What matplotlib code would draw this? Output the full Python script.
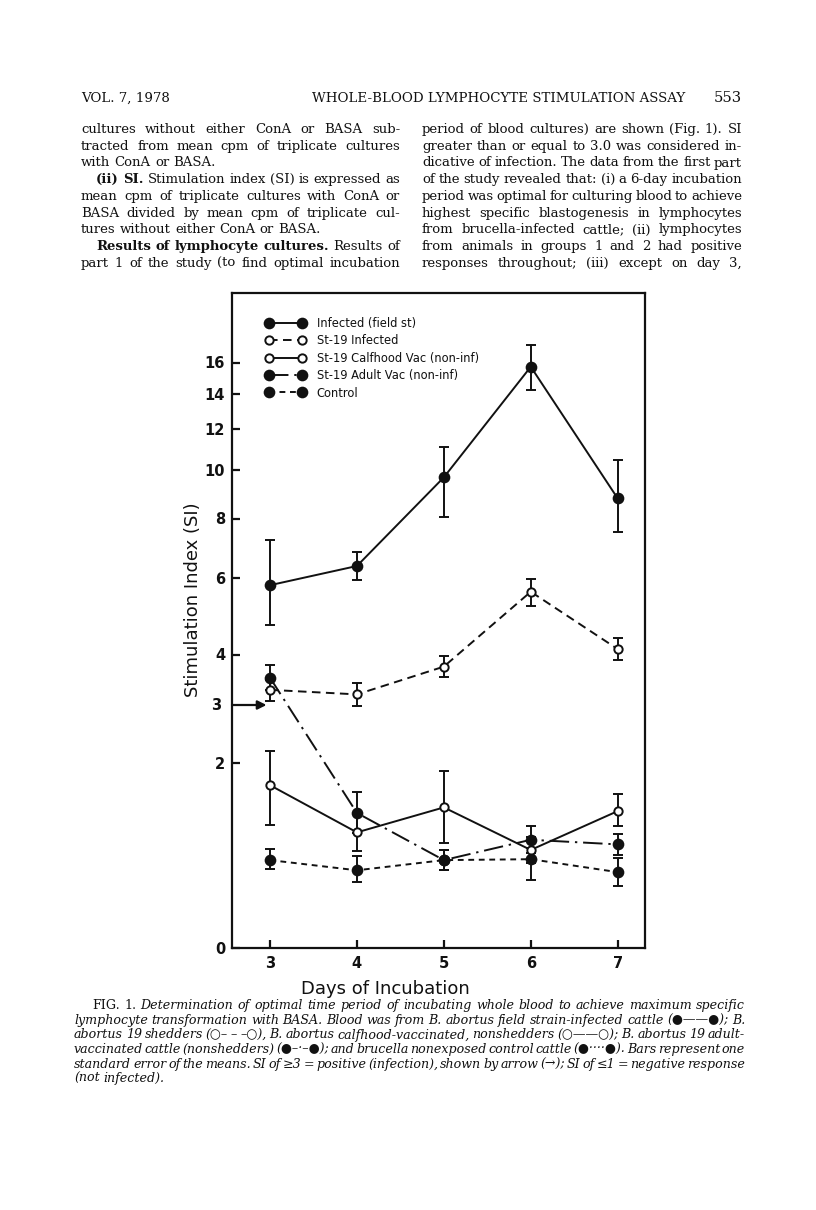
import numpy as np
import matplotlib
matplotlib.use("Agg")
import matplotlib.pyplot as plt
from matplotlib.lines import Line2D

W, H = 816, 1210
INK = "#111111"

# days of incubation
days = [3, 4, 5, 6, 7]

# stimulation index: means and ends of the error bars
infected = [5.8, 6.39, 9.68, 15.73, 8.82]
infected_hi = [7.27, 6.87, 11.1, 17.23, 10.47]
infected_lo = [4.77, 5.94, 8.08, 14.25, 7.55]

st19_inf = [3.30, 3.21, 3.76, 5.63, 4.14]
st19_inf_hi = [3.50, 3.43, 3.98, 5.95, 4.42]
st19_inf_lo = [3.07, 2.99, 3.55, 5.25, 3.89]

calfhood = [1.76, 1.25, 1.52, 1.06, 1.48]
calfhood_hi = [2.21, 1.45, 1.91, 1.20, 1.66]
calfhood_lo = [1.33, 1.05, 1.13, 0.92, 1.32]

adult = [3.54, 1.46, 0.95, 1.17, 1.12]
adult_hi = [3.80, 1.69, 1.06, 1.32, 1.23]
adult_lo = [3.30, 1.24, 0.84, 1.03, 1.01]

control = [0.95, 0.84, 0.95, 0.96, 0.82]
control_hi = [1.07, 1.00, 1.06, 1.08, 0.97]
control_lo = [0.85, 0.71, 0.84, 0.74, 0.67]

series_names = ["Infected (field st)", "St-19 Infected",
                "St-19 Calfhood Vac (non-inf)", "St-19 Adult Vac (non-inf)",
                "Control"]

y_ticks = [0, 2, 4, 6, 8, 10, 12, 14, 16]
x_label = "Days of Incubation"
y_label = "Stimulation Index (SI)"

# the SI axis of the printed figure is stretched by hand:
# value -> height (px) above the zero line
axis_si = [0, 2, 3, 4, 6, 8, 10, 12, 14, 16, 18, 21]
axis_h = [0, 185, 243, 293.5, 370.5, 429.5, 478.5, 519, 554, 585.5, 614, 655]

# page text
header_left = "VOL. 7, 1978"
header_mid = "WHOLE-BLOOD LYMPHOCYTE STIMULATION ASSAY"
header_right = "553"

left_col = [
    ("", "cultures without either ConA or BASA sub-", False, True),
    ("", "tracted from mean cpm of triplicate cultures", False, True),
    ("", "with ConA or BASA.", False, False),
    ("(ii) SI.", "Stimulation index (SI) is expressed as", True, True),
    ("", "mean cpm of triplicate cultures with ConA or", False, True),
    ("", "BASA divided by mean cpm of triplicate cul-", False, True),
    ("", "tures without either ConA or BASA.", False, False),
    ("Results of lymphocyte cultures.", "Results of", True, True),
    ("", "part 1 of the study (to find optimal incubation", False, True),
]
right_col = [
    "period of blood cultures) are shown (Fig. 1). SI",
    "greater than or equal to 3.0 was considered in-",
    "dicative of infection. The data from the first part",
    "of the study revealed that: (i) a 6-day incubation",
    "period was optimal for culturing blood to achieve",
    "highest specific blastogenesis in lymphocytes",
    "from brucella-infected cattle; (ii) lymphocytes",
    "from animals in groups 1 and 2 had positive",
    "responses throughout; (iii) except on day 3,",
]
caption = [
    ("FIG. 1.", "Determination of optimal time period of incubating whole blood to achieve maximum specific"),
    ("", "lymphocyte transformation with BASA. Blood was from B. abortus field strain-infected cattle (●——●); B."),
    ("", "abortus 19 shedders (○– – –○), B. abortus calfhood-vaccinated, nonshedders (○——○); B. abortus 19 adult-"),
    ("", "vaccinated cattle (nonshedders) (●–·–●); and brucella nonexposed control cattle (●····●). Bars represent one"),
    ("", "standard error of the means. SI of ≥3 = positive (infection), shown by arrow (→); SI of ≤1 = negative response"),
    ("", "(not infected)."),
]

fig = plt.figure(figsize=(W / 100, H / 100), dpi=100)
fig.patch.set_facecolor("white")
rend = fig.canvas.get_renderer()


def fx(x):
    return x / W


def fy(y):
    return 1 - y / H


def text_w(s, **kw):
    t = fig.text(0, 0, s, **kw)
    w = t.get_window_extent(renderer=rend).width
    t.remove()
    return w


def fit_size(lines, base, cap, min_gap):
    # largest size (<= cap) at which every justified line still fits
    best = cap
    for toks, x0, x1, just in lines:
        if not just:
            continue
        ws = sum(text_w(w, fontsize=base, **st) for w, st in toks)
        avail = x1 - x0 - min_gap * (len(toks) - 1)
        best = min(best, base * avail / ws)
    return best


def put_line(toks, x0, x1, y, size, just):
    widths = [text_w(w, fontsize=size, **st) for w, st in toks]
    if just and len(toks) > 1:
        gap = (x1 - x0 - sum(widths)) / (len(toks) - 1)
    else:
        gap = text_w("a a", fontsize=size, **toks[0][1]) - text_w("aa", fontsize=size, **toks[0][1])
    x = x0
    for (w, st), wd in zip(toks, widths):
        fig.text(fx(x), fy(y), w, fontsize=size, ha="left", va="baseline",
                 color=INK, **st)
        x += wd + gap


# ---------------- page text ----------------
serif = dict(family="DejaVu Serif")
serif_b = dict(family="DejaVu Serif", weight="bold")
cap_i = dict(family=["DejaVu Serif", "DejaVu Sans"], style="italic")

hsize = 9 * (688 - 312) / text_w(header_mid, fontsize=9, **serif)
fig.text(fx(81), fy(102), header_left, fontsize=hsize, ha="left", va="baseline", color=INK, **serif)
fig.text(fx(312), fy(102), header_mid, fontsize=hsize, ha="left", va="baseline", color=INK, **serif)
fig.text(fx(742), fy(102), header_right, fontsize=hsize * 1.1, ha="right", va="baseline", color=INK, **serif)

body = []
for i, (pre, rest, indent, just) in enumerate(left_col):
    toks = [(w, serif_b) for w in pre.split()] + [(w, serif) for w in rest.split()]
    body.append((toks, 96 if indent else 81, 400, just, 133 + i * 16.75))
for i, line in enumerate(right_col):
    toks = [(w, serif) for w in line.split()]
    body.append((toks, 422, 742, True, 133 + i * 16.75))
bsize = fit_size([b[:4] for b in body], 10, 10, 2.3)
for toks, x0, x1, just, y in body:
    put_line(toks, x0, x1, y, bsize, just)

cap_lines = []
for i, (pre, rest) in enumerate(caption):
    toks = [(w, serif) for w in pre.split()] + [(w, cap_i) for w in rest.split()]
    cap_lines.append((toks, 92 if pre else 74, 745, i < len(caption) - 1, 1009.3 + i * 14.6))
csize = fit_size([c[:4] for c in cap_lines], 8.5, 9.2, 1.8)
for toks, x0, x1, just, y in cap_lines:
    put_line(toks, x0, x1, y, csize, just)

# ---------------- chart ----------------
ax = fig.add_axes([fx(232), fy(948), (645 - 232) / W, (948 - 293) / H])
ax.set_yscale("function", functions=(lambda v: np.interp(v, axis_si, axis_h),
                                     lambda h: np.interp(h, axis_h, axis_si)))
ax.set_ylim(0, 21)
ax.set_xlim(2.563, 7.314)

means = [infected, st19_inf, calfhood, adult, control]
highs = [infected_hi, st19_inf_hi, calfhood_hi, adult_hi, control_hi]
lows = [infected_lo, st19_inf_lo, calfhood_lo, adult_lo, control_lo]
styles = [
    dict(ls="-", mfc=INK, ms=7),
    dict(ls=(0, (4.4, 2.8)), mfc="white", ms=6),
    dict(ls="-", mfc="white", ms=6),
    dict(ls=(0, (10, 3, 1.2, 3)), mfc=INK, ms=7),
    dict(ls=(0, (3.0, 2.4)), mfc=INK, ms=7),
]

handles = []
for m, hi, lo, st, name in zip(means, highs, lows, styles, series_names):
    m = np.array(m)
    err = [m - np.array(lo), np.array(hi) - m]
    ax.errorbar(days, m, yerr=err, fmt="none", ecolor=INK, elinewidth=1.4,
                capsize=3.3, capthick=1.4, zorder=2)
    ax.plot(days, m, color=INK, lw=1.4, marker="o", mec=INK, mew=1.4,
            zorder=3, **st)
    handles.append(Line2D([], [], color=INK, lw=1.4, marker="o", mec=INK,
                          mew=1.4, label=name, **st))

leg = ax.legend(handles=handles, loc="upper left",
                bbox_to_anchor=(fx(266), fy(317)), bbox_transform=fig.transFigure,
                frameon=False, fontsize=8.3, numpoints=2, handlelength=3.4,
                handletextpad=1.0, labelspacing=0.38, borderpad=0, borderaxespad=0)
for t in leg.get_texts():
    t.set_color(INK)

for s in ax.spines.values():
    s.set_linewidth(1.6)
    s.set_color(INK)

ax.set_xticks(days)
ax.set_xticklabels([str(d) for d in days])
ax.set_yticks(y_ticks)
ax.set_yticklabels([str(v) for v in y_ticks])
ax.tick_params(axis="both", direction="in", length=6, width=1.6, color=INK,
               labelcolor=INK, labelsize=10.5)
ax.tick_params(axis="y", pad=5)
ax.tick_params(axis="x", pad=6)
for lab in ax.get_xticklabels() + ax.get_yticklabels():
    lab.set_fontweight("bold")

# SI = 3 threshold arrow and its label
ax.annotate("", xy=(2.96, 3), xytext=(2.563, 3), annotation_clip=False,
            arrowprops=dict(arrowstyle="-|>", lw=1.6, color=INK, mutation_scale=13,
                            shrinkA=0, shrinkB=0))
ax.text(2.44, 3, "3", ha="right", va="center", fontsize=10.5, fontweight="bold",
        color=INK, clip_on=False)

fig.text(fx(385), fy(994), x_label, fontsize=13, ha="center", va="baseline", color=INK)
fig.text(fx(193), fy(600), y_label, fontsize=13, rotation=90, ha="center",
         va="center", color=INK)

fig.savefig("out.png", dpi=100, facecolor="white")
